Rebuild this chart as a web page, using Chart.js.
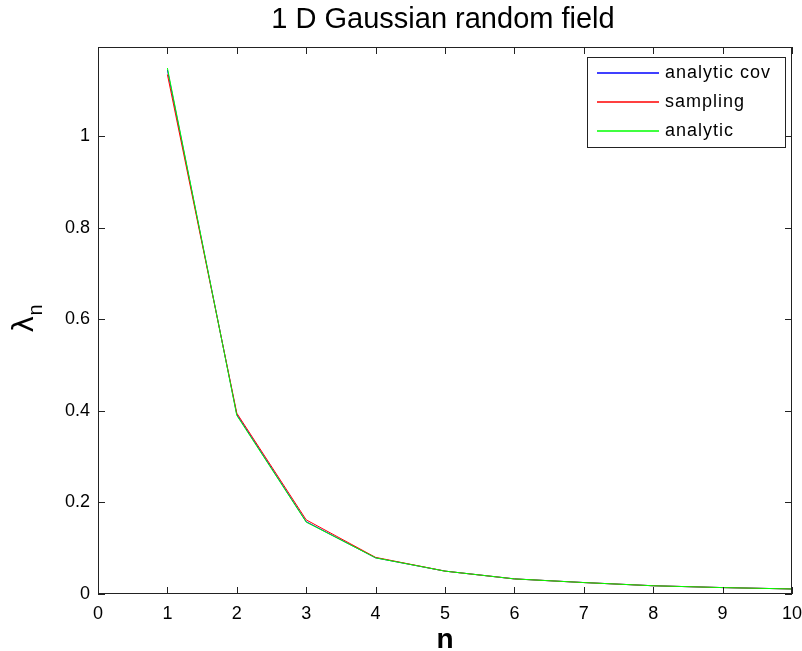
<!DOCTYPE html>
<html>
  <head>
    <title>1 D Gaussian random field</title>
    <script src="https://cdn.jsdelivr.net/npm/chart.js"></script>
    <style>
      html, body {
        margin: 0;
        padding: 0;
        background: #fff;
      }
      #wrap {
        width: 802px;
        height: 651px;
      }
    </style>
  </head>
  <body>
    <div id="wrap"><canvas id="eig"></canvas></div>

    <script>
      // eigenvalue index
      let n = [1, 2, 3, 4, 5, 6, 7, 8, 9, 10];
      // eigenvalues
      let analyticCov = [1.145, 0.392, 0.158, 0.079, 0.05, 0.033, 0.025, 0.018, 0.014, 0.011];
      let sampling = [1.135, 0.395, 0.162, 0.08, 0.05, 0.033, 0.025, 0.018, 0.014, 0.011];
      let analytic = [1.149, 0.39, 0.157, 0.079, 0.05, 0.033, 0.025, 0.018, 0.014, 0.011];
      let xTicks = [0, 1, 2, 3, 4, 5, 6, 7, 8, 9, 10];
      let yTicks = [0, 0.2, 0.4, 0.6, 0.8, 1];
      let seriesNames = ["analytic cov", "sampling", "analytic"];
      let seriesColors = ["#0000ff", "#ff0000", "#00ff00"];

      let axisColor = "#222";
      let font = "'Liberation Sans', Arial, sans-serif";

      let pts = (ys) => n.map((x, i) => ({ x: x, y: ys[i] }));

      let matlabLook = {
        id: "matlabLook",
        afterDatasetsDraw(chart) {
          let c = chart.ctx;
          let a = chart.chartArea;
          let xs = chart.scales.x;
          let ys = chart.scales.y;
          c.save();
          // box
          c.strokeStyle = axisColor;
          c.lineWidth = 1;
          c.strokeRect(a.left + 0.5, a.top + 0.5, a.right - a.left - 1, a.bottom - a.top - 1);
          // inward ticks on all sides
          let tl = 7;
          c.beginPath();
          xTicks.forEach((v) => {
            let px = Math.round(xs.getPixelForValue(v)) + 0.5;
            c.moveTo(px, a.bottom);
            c.lineTo(px, a.bottom - tl);
            c.moveTo(px, a.top);
            c.lineTo(px, a.top + tl);
          });
          yTicks.forEach((v) => {
            let py = Math.round(ys.getPixelForValue(v)) + 0.5;
            c.moveTo(a.left, py);
            c.lineTo(a.left + tl, py);
            c.moveTo(a.right, py);
            c.lineTo(a.right - tl, py);
          });
          c.stroke();

          // legend box
          let lx = 587, ly = 57, lw = 198, lh = 90;
          c.fillStyle = "#fff";
          c.fillRect(lx, ly, lw, lh);
          c.strokeStyle = "#222";
          c.strokeRect(lx + 0.5, ly + 0.5, lw, lh);
          c.font = "18px " + font;
          c.textBaseline = "middle";
          c.textAlign = "left";
          if ("letterSpacing" in c) c.letterSpacing = "1px";
          chart.data.datasets.forEach((ds, i) => {
            let ry = ly + 16 + i * 29;
            c.strokeStyle = seriesColors[i];
            c.lineWidth = 1.5;
            c.beginPath();
            c.moveTo(lx + 10, ry);
            c.lineTo(lx + 72, ry);
            c.stroke();
            c.fillStyle = "#000";
            c.fillText(ds.label, lx + 78, ry);
          });
          if ("letterSpacing" in c) c.letterSpacing = "0px";

          // title
          c.fillStyle = "#000";
          c.textAlign = "center";
          c.textBaseline = "alphabetic";
          c.font = "29px " + font;
          c.fillText("1 D Gaussian random field", (a.left + a.right) / 2 - 2, 28);

          // x label
          c.font = "bold 28px " + font;
          c.fillText("n", (a.left + a.right) / 2, 648);

          // y label, lambda with subscript n
          c.translate(33, (a.top + a.bottom) / 2);
          c.rotate(-Math.PI / 2);
          c.textAlign = "left";
          c.font = "28px 'DejaVu Sans', sans-serif";
          c.fillText("λ", -12, 0);
          c.font = "20px " + font;
          c.fillText("n", 5, 9);
          c.restore();
        },
      };

      let ctx = document.getElementById("eig").getContext("2d");
      let chart = new Chart(ctx, {
        type: "line",
        data: {
          datasets: [
            { label: seriesNames[0], data: pts(analyticCov), borderColor: seriesColors[0], order: 3 },
            { label: seriesNames[1], data: pts(sampling), borderColor: seriesColors[1], order: 2 },
            { label: seriesNames[2], data: pts(analytic), borderColor: seriesColors[2], order: 1 },
          ],
        },
        options: {
          responsive: true,
          maintainAspectRatio: false,
          animation: false,
          layout: { padding: { left: 0, right: 10, top: 47, bottom: 0 } },
          elements: {
            line: { borderWidth: 1, tension: 0 },
            point: { radius: 0 },
          },
          plugins: {
            legend: { display: false },
            tooltip: { enabled: false },
          },
          scales: {
            x: {
              type: "linear",
              min: 0,
              max: 10,
              afterBuildTicks: (s) => (s.ticks = xTicks.map((v) => ({ value: v }))),
              afterFit: (s) => {
                s.height = 57;
                s.paddingLeft = 0;
                s.paddingRight = 0;
              },
              grid: { display: false, drawTicks: false },
              border: { display: false },
              ticks: {
                padding: 9,
                color: "#000",
                font: { family: font, size: 18 },
                maxRotation: 0,
                autoSkip: false,
              },
            },
            y: {
              type: "linear",
              min: 0,
              max: 1.195,
              afterBuildTicks: (s) => (s.ticks = yTicks.map((v) => ({ value: v }))),
              afterFit: (s) => (s.width = 98),
              grid: { display: false, drawTicks: false },
              border: { display: false },
              ticks: {
                padding: 8,
                color: "#000",
                font: { family: font, size: 18 },
                callback: (v) => String(Math.round(v * 10) / 10),
              },
            },
          },
        },
        plugins: [matlabLook],
      });
    </script>
  </body>
</html>
